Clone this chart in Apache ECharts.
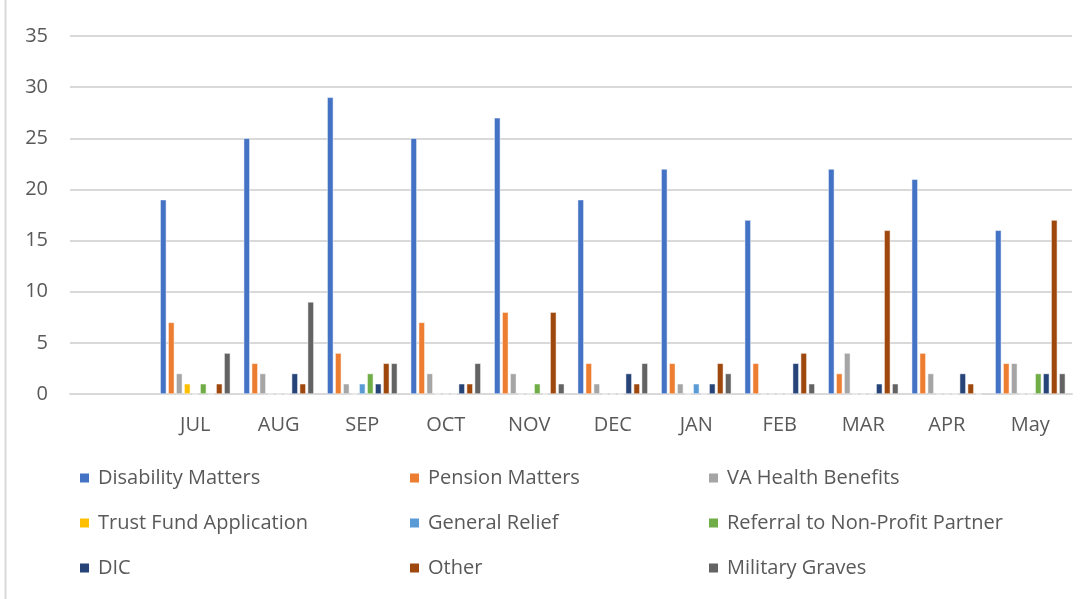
<!DOCTYPE html>
<html><head><meta charset="utf-8">
<script src="https://cdn.jsdelivr.net/npm/echarts@6/dist/echarts.min.js"></script>
<style>html,body{margin:0;padding:0;background:#fff}#c{width:1088px;height:599px}</style>
</head><body><div id="c"></div>
<script>
const categories = ['', 'JUL', 'AUG', 'SEP', 'OCT', 'NOV', 'DEC', 'JAN', 'FEB', 'MAR', 'APR', 'May'];
const seriesNames = ['Disability Matters', 'Pension Matters', 'VA Health Benefits', 'Trust Fund Application', 'General Relief', 'Referral to Non-Profit Partner', 'DIC', 'Other', 'Military Graves'];
const disability = [null, 19, 25, 29, 25, 27, 19, 22, 17, 22, 21, 16];
const pension    = [null, 7, 3, 4, 7, 8, 3, 3, 3, 2, 4, 3];
const vaHealth   = [null, 2, 2, 1, 2, 2, 1, 1, 0, 4, 2, 3];
const trustFund  = [null, 1, 0, 0, 0, 0, 0, 0, 0, 0, 0, 0];
const generalRelief = [null, 0, 0, 1, 0, 0, 0, 1, 0, 0, 0, 0];
const referral   = [null, 1, 0, 2, 0, 1, 0, 0, 0, 0, 0, 2];
const dic        = [null, 0, 2, 1, 1, 0, 2, 1, 3, 1, 2, 2];
const other      = [null, 1, 1, 3, 1, 8, 1, 3, 4, 16, 1, 17];
const graves     = [null, 4, 9, 3, 3, 1, 3, 2, 1, 1, 0, 2];
const yTicks = [0, 5, 10, 15, 20, 25, 30, 35];

const colors = ['#4472C4', '#ED7D31', '#A5A5A5', '#FFC000', '#5B9BD5', '#70AD47', '#264478', '#9E480E', '#636363'];
const allData = [disability, pension, vaHealth, trustFund, generalRelief, referral, dic, other, graves];
const font = 'Open Sans';

const chart = echarts.init(document.getElementById('c'), null, {renderer: 'canvas'});
const legendCols = [[0, 3, 6], [1, 4, 7], [2, 5, 8]];
const legendLefts = [78, 408, 707];
chart.setOption({
  animation: false,
  color: colors,
  textStyle: {fontFamily: font},
  grid: {left: 70, right: 16, top: 36, bottom: 205},
  graphic: [{type: 'line', shape: {x1: 5.5, y1: 0, x2: 5.5, y2: 599}, style: {stroke: '#D9D9D9', lineWidth: 2}}],
  legend: legendCols.map((col, i) => ({
    orient: 'vertical', left: legendLefts[i], top: 468, padding: 0,
    itemWidth: 11, itemHeight: 11, itemGap: 25,
    icon: 'rect',
    textStyle: {fontFamily: font, fontSize: 20, color: '#595959', padding: [0, 0, 0, 3]},
    data: col.map(k => seriesNames[k])
  })),
  xAxis: {
    type: 'category', data: categories,
    axisLine: {lineStyle: {color: '#D9D9D9', width: 2}},
    axisTick: {show: false},
    axisLabel: {fontFamily: font, fontSize: 20, color: '#595959', margin: 21}
  },
  yAxis: {
    type: 'value', min: 0, max: 35, interval: 5,
    axisLine: {show: false}, axisTick: {show: false},
    splitLine: {lineStyle: {color: '#D9D9D9', width: 2}},
    axisLabel: {fontFamily: font, fontSize: 20, color: '#595959', margin: 22,
      formatter: v => yTicks.includes(v) ? String(v) : ''}
  },
  series: seriesNames.map((n, i) => ({
    name: n, type: 'bar', data: allData[i],
    barCategoryGap: '16%', barGap: '30%',
    itemStyle: {color: colors[i], borderColor: '#fff', borderWidth: 0.5}
  }))
});
</script></body></html>
